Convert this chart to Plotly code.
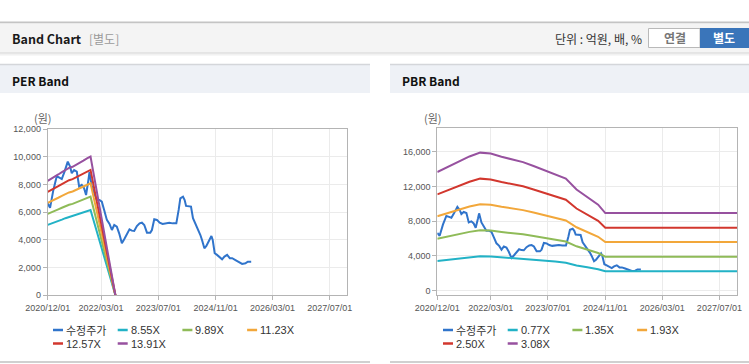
import plotly.graph_objects as go

W, H = 749, 364

# ---------------- data ----------------
price_dates = ["2020-12-01", "2020-12-21", "2021-01-18", "2021-02-16", "2021-03-11", "2021-03-31",
               "2021-04-22", "2021-05-21", "2021-06-10", "2021-06-24", "2021-07-14", "2021-08-06",
               "2021-08-26", "2021-09-17", "2021-10-07", "2021-10-24", "2021-11-13", "2021-11-22",
               "2021-12-12", "2022-01-04", "2022-01-23", "2022-02-15", "2022-03-07", "2022-03-27",
               "2022-04-19", "2022-05-12", "2022-06-01", "2022-06-21", "2022-07-13", "2022-08-02",
               "2022-08-25", "2022-09-14", "2022-10-07", "2022-10-29", "2022-11-18", "2022-12-08",
               "2022-12-31", "2023-01-23", "2023-02-12", "2023-03-04", "2023-03-27", "2023-04-24",
               "2023-05-08", "2023-05-28", "2023-06-20", "2023-07-13", "2023-08-07", "2023-09-05",
               "2023-10-03", "2023-11-01", "2023-12-02", "2023-12-22", "2024-01-05", "2024-01-28",
               "2024-02-11", "2024-02-23", "2024-03-16", "2024-04-05", "2024-04-22", "2024-05-12",
               "2024-06-01", "2024-06-24", "2024-07-08", "2024-07-28", "2024-08-14", "2024-09-03",
               "2024-09-26", "2024-10-07", "2024-10-24", "2024-11-13", "2024-12-06", "2024-12-26",
               "2025-01-15", "2025-02-07", "2025-03-02", "2025-03-22", "2025-04-19", "2025-05-17",
               "2025-06-15", "2025-07-13", "2025-08-02", "2025-08-31"]
price_values = [6650, 6320, 7600, 8600, 8500, 8400, 8900, 9660, 9300, 8820, 9060, 8940,
                7860, 7980, 7740, 7250, 8340, 8900, 7860, 7370, 6890, 6890, 6770, 6170,
                5450, 5160, 4720, 5085, 4960, 4480, 3760, 4050, 4480, 4770, 4675, 4650,
                5010, 5200, 5250, 5085, 4530, 4530, 4720, 5500, 5450, 5250, 5160, 5200,
                5250, 5200, 5200, 6170, 7010, 7130, 6890, 6460, 6460, 6410, 5570, 5200,
                4840, 4360, 4000, 3400, 3570, 3880, 4290, 4000, 3040, 2920, 2750, 2600,
                2800, 2920, 2680, 2680, 2550, 2390, 2270, 2310, 2430, 2430]

per_dates = ["2020-12-01", "2021-01-01", "2021-02-01", "2021-03-01", "2021-04-01", "2021-05-01",
             "2021-06-01", "2021-07-01", "2021-08-01", "2021-09-01", "2021-10-01", "2021-11-01",
             "2021-12-01", "2022-07-01"]
per_855 = [5087, 5173, 5258, 5369, 5472, 5575, 5660, 5711, 5797, 5882, 5985, 6088, 6165, 0]
per_989 = [5885, 5983, 6082, 6211, 6330, 6448, 6547, 6607, 6705, 6804, 6923, 7042, 7131, 0]
per_1123 = [6682, 6794, 6906, 7052, 7187, 7322, 7434, 7502, 7614, 7726, 7861, 7996, 8097, 0]
per_1257 = [7479, 7605, 7731, 7894, 8045, 8196, 8321, 8397, 8522, 8648, 8799, 8950, 9063, 0]
per_1391 = [8276, 8415, 8555, 8735, 8902, 9069, 9208, 9292, 9431, 9570, 9737, 9904, 10029, 0]

pbr_dates = ["2020-12-01", "2021-03-01", "2021-06-01", "2021-09-01", "2021-12-01", "2022-03-01",
             "2022-06-01", "2022-09-01", "2022-12-01", "2023-03-01", "2023-06-01", "2023-09-01",
             "2023-12-01", "2024-03-01", "2024-06-01", "2024-09-01", "2024-11-01", "2027-11-28"]
pbr_077 = [3415, 3563, 3725, 3862, 3972, 3945, 3855, 3782, 3700, 3587, 3463, 3350, 3225, 2912, 2687, 2475, 2233, 2233]
pbr_135 = [5987, 6246, 6531, 6772, 6965, 6916, 6758, 6631, 6487, 6290, 6071, 5874, 5654, 5106, 4712, 4339, 3915, 3915]
pbr_193 = [8560, 8930, 9337, 9681, 9957, 9887, 9662, 9480, 9274, 8992, 8679, 8397, 8083, 7299, 6736, 6203, 5597, 5597]
pbr_250 = [11088, 11568, 12095, 12540, 12898, 12808, 12515, 12280, 12013, 11648, 11243, 10878, 10470, 9455, 8725, 8035, 7250, 7250]
pbr_308 = [13660, 14251, 14901, 15449, 15890, 15779, 15418, 15129, 14799, 14350, 13851, 13401, 12899, 11649, 10749, 9899, 8932, 8932]

tick_dates = ["2020-12-01", "2022-03-01", "2023-07-01", "2024-11-01", "2026-03-01", "2027-07-01"]
tick_labels = ["2020/12/01", "2022/03/01", "2023/07/01", "2024/11/01", "2026/03/01", "2027/07/01"]
x_range = ["2020-12-01", "2027-11-28"]

price_name = "수정주가"
per_names = ["8.55X", "9.89X", "11.23X", "12.57X", "13.91X"]
pbr_names = ["0.77X", "1.35X", "1.93X", "2.50X", "3.08X"]

# ---------------- styles ----------------
C_PRICE = "#3074cb"
C_BANDS = ["#22b2c6", "#8fbb58", "#f2a73a", "#d2372e", "#97519f"]
FONT = "Liberation Sans, Arial, sans-serif"
KFONT = "Noto Sans CJK KR, sans-serif"


def X(px):
    return px / W


def Y(py):
    return 1 - py / H


fig = go.Figure()

fig.add_trace(go.Scatter(x=price_dates, y=price_values, mode="lines", name=price_name,
                         line=dict(color=C_PRICE, width=2), xaxis="x", yaxis="y"))
for vals, nm, col in zip([per_855, per_989, per_1123, per_1257, per_1391], per_names, C_BANDS):
    fig.add_trace(go.Scatter(x=per_dates, y=vals, mode="lines", name=nm,
                             line=dict(color=col, width=2), xaxis="x", yaxis="y"))

fig.add_trace(go.Scatter(x=price_dates, y=price_values, mode="lines", name=price_name,
                         line=dict(color=C_PRICE, width=2), xaxis="x2", yaxis="y2"))
for vals, nm, col in zip([pbr_077, pbr_135, pbr_193, pbr_250, pbr_308], pbr_names, C_BANDS):
    fig.add_trace(go.Scatter(x=pbr_dates, y=vals, mode="lines", name=nm,
                             line=dict(color=col, width=2), xaxis="x2", yaxis="y2"))

axis_common = dict(showline=True, linecolor="#b4b4b4", linewidth=1, mirror=True,
                   gridcolor="#ebebeb", gridwidth=1, ticks="outside", ticklen=4,
                   tickcolor="#b4b4b4", tickfont=dict(family=FONT, size=9, color="#555"),
                   zeroline=False, fixedrange=True, automargin=False)

xax = dict(type="date", range=x_range, tickvals=tick_dates, ticktext=tick_labels, **axis_common)

fig.update_layout(
    width=W, height=H, autosize=False,
    margin=dict(l=0, r=0, t=0, b=0, pad=0, autoexpand=False),
    paper_bgcolor="white", plot_bgcolor="white",
    showlegend=False,
    xaxis=dict(domain=[X(47.7), X(347.3)], anchor="y", **xax),
    yaxis=dict(domain=[Y(295.3), Y(129.3)], anchor="x", range=[0, 12000],
               tickvals=[0, 2000, 4000, 6000, 8000, 10000, 12000], tickformat=",d", **axis_common),
    xaxis2=dict(domain=[X(437.3), X(737)], anchor="y2", **xax),
    yaxis2=dict(domain=[Y(295), Y(128.3)], anchor="x2", range=[-495, 18690],
                tickvals=[0, 4000, 8000, 12000, 16000], tickformat=",d", **axis_common),
)

shapes = []
annotations = []


def rect(x0, y0, x1, y1, fill, line=None, lw=0):
    shapes.append(dict(type="rect", xref="paper", yref="paper", x0=X(x0), x1=X(x1), y0=Y(y1), y1=Y(y0),
                       fillcolor=fill, line=dict(color=line or fill, width=lw), layer="below"))


def hline(x0, x1, y, color, w):
    shapes.append(dict(type="line", xref="paper", yref="paper", x0=X(x0), x1=X(x1), y0=Y(y), y1=Y(y),
                       line=dict(color=color, width=w), layer="below"))


def text(x, y, s, size, color, xanchor="left", bold=False, family=KFONT):
    if bold:
        s = "<b>" + s + "</b>"
    annotations.append(dict(xref="paper", yref="paper", x=X(x), y=Y(y), text=s, showarrow=False,
                            xanchor=xanchor, yanchor="middle", borderpad=0,
                            font=dict(family=family, size=size, color=color)))


# header
hline(0, W, 22.5, "#c4c4c4", 2)
rect(0, 23.5, W, 52.5, "#f4f4f4")
hline(0, W, 53, "#cfcfcf", 1)
hline(0, W, 54, "#e4e4e4", 1)
hline(0, W, 55, "#f0f0f0", 1)
text(11, 38.5, "Band Chart", 12.5, "#1a1a1a", bold=True)
text(88, 38.5, "[별도]", 12, "#9a9a9a")
text(643, 38.5, "단위 : 억원, 배, %", 12, "#333", xanchor="right")
shapes.append(dict(type="rect", xref="paper", yref="paper", x0=X(648.5), x1=X(700), y0=Y(47.5), y1=Y(28.5),
                   fillcolor="white", line=dict(color="#b9b9b9", width=1), layer="below"))
rect(700, 28, W, 48, "#3a75ba")
text(674.5, 38, "연결", 12, "#777", xanchor="center", bold=True)
text(724, 38, "별도", 12, "white", xanchor="center", bold=True)

# panels
for px0, px1, title in [(0, 370, "PER Band"), (390, W, "PBR Band")]:
    rect(px0, 64, px1, 93, "#eef1f6")
    hline(px0, px1, 64.5, "#d4d6da", 1.5)
    hline(px0, px1, 362, "#d0d0d0", 2)
    text(px0 + 11, 80, title, 12, "#111", bold=True)

# unit labels
text(33, 118, "(원)", 11, "#666")
text(423, 118, "(원)", 11, "#666")

# legends
leg_cols = [C_PRICE] + C_BANDS
for base, names in [(53, [price_name] + per_names), (443, [price_name] + pbr_names)]:
    for i, (nm, col) in enumerate(zip(names, leg_cols)):
        row, colidx = divmod(i, 4)
        lx = base + colidx * 64.7
        ly = 330 + row * 13.5
        shapes.append(dict(type="line", xref="paper", yref="paper", x0=X(lx), x1=X(lx + 10),
                           y0=Y(ly), y1=Y(ly), line=dict(color=col, width=2.5)))
        text(lx + 12, ly, nm, 11, "#333", family=KFONT if i == 0 else FONT)

fig.update_layout(shapes=shapes, annotations=annotations)

fig.write_html("out.html", post_script="document.body.style.margin='0';",
               config={"displayModeBar": False})
